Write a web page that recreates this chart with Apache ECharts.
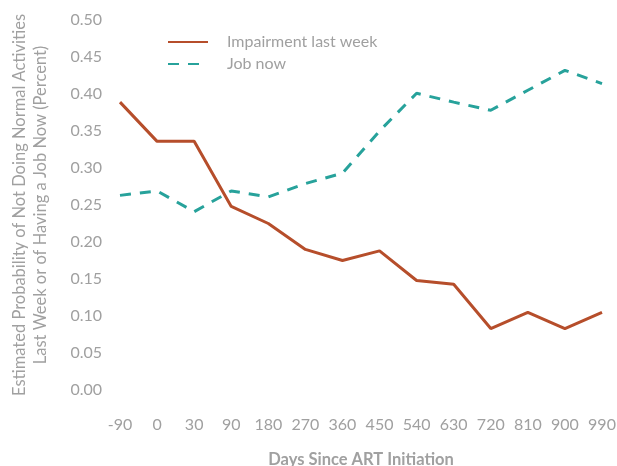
<!DOCTYPE html>
<html lang="en">
<head>
    <meta charset="UTF-8">
    <title>Chart</title>
    <script src="https://cdn.jsdelivr.net/npm/echarts@6/dist/echarts.min.js"></script>
    <style>
        html, body { margin: 0; padding: 0; background: #fff; }
    </style>
</head>
<body>
<div id="chart" style="width: 617px;height:466px;"></div>
<script>
    // x categories (days since ART initiation)
    var days = ['-90', '0', '30', '90', '180', '270', '360', '450', '540', '630', '720', '810', '900', '990'];
    // Impairment last week
    var impairment = [0.389, 0.336, 0.336, 0.248, 0.225, 0.190, 0.175, 0.188, 0.148, 0.143, 0.083, 0.105, 0.083, 0.105];
    // Job now
    var jobNow = [0.263, 0.269, 0.241, 0.269, 0.261, 0.279, 0.293, 0.350, 0.401, 0.389, 0.378, 0.405, 0.432, 0.414];
    var yTicks = [0, 0.05, 0.10, 0.15, 0.20, 0.25, 0.30, 0.35, 0.40, 0.45, 0.50];

    var textColor = '#a0a0a0';
    var fontName = 'Lato';

    var myChart = echarts.init(document.getElementById('chart'));
    myChart.setOption({
        animation: false,
        textStyle: { fontFamily: fontName },
        legend: {
            orient: 'vertical',
            left: 162,
            top: 29,
            itemWidth: 40,
            itemHeight: 14,
            itemGap: 6,
            itemStyle: { opacity: 0 },
            textStyle: { color: textColor, fontSize: 16, fontFamily: fontName, padding: [0, 0, 0, 14] },
            data: ['Impairment last week', 'Job now']
        },
        grid: {
            left: 120,
            right: 15,
            top: 20,
            bottom: 76,
            outerBoundsMode: 'none'
        },
        xAxis: {
            type: 'category',
            boundaryGap: false,
            data: days,
            name: 'Days Since ART Initiation',
            nameLocation: 'middle',
            nameGap: 61,
            nameTextStyle: { color: textColor, fontSize: 16.5, fontWeight: 'bold', fontFamily: fontName },
            axisLine: { show: false },
            axisTick: { show: false },
            axisLabel: { color: textColor, fontSize: 16, margin: 27, interval: 0, fontFamily: fontName }
        },
        yAxis: {
            type: 'value',
            min: yTicks[0],
            max: yTicks[yTicks.length - 1],
            interval: 0.05,
            name: 'Estimated Probability of Not Doing Normal Activities\nLast Week or of Having a Job Now (Percent)',
            nameLocation: 'middle',
            nameGap: 69,
            nameTextStyle: { color: textColor, fontSize: 16.5, lineHeight: 21, fontFamily: fontName },
            axisLine: { show: false },
            axisTick: { show: false },
            splitLine: { show: false },
            axisLabel: {
                color: textColor,
                fontSize: 16,
                margin: 18,
                fontFamily: fontName,
                formatter: function (v) { return v.toFixed(2); }
            }
        },
        series: [{
            name: 'Impairment last week',
            type: 'line',
            data: impairment,
            symbol: 'none',
            color: '#b64e2b',
            lineStyle: { width: 3, color: '#b64e2b' }
        }, {
            name: 'Job now',
            type: 'line',
            data: jobNow,
            symbol: 'none',
            color: '#27a29b',
            lineStyle: { width: 3, color: '#27a29b', type: [11, 9] }
        }]
    });
</script>
</body>
</html>
